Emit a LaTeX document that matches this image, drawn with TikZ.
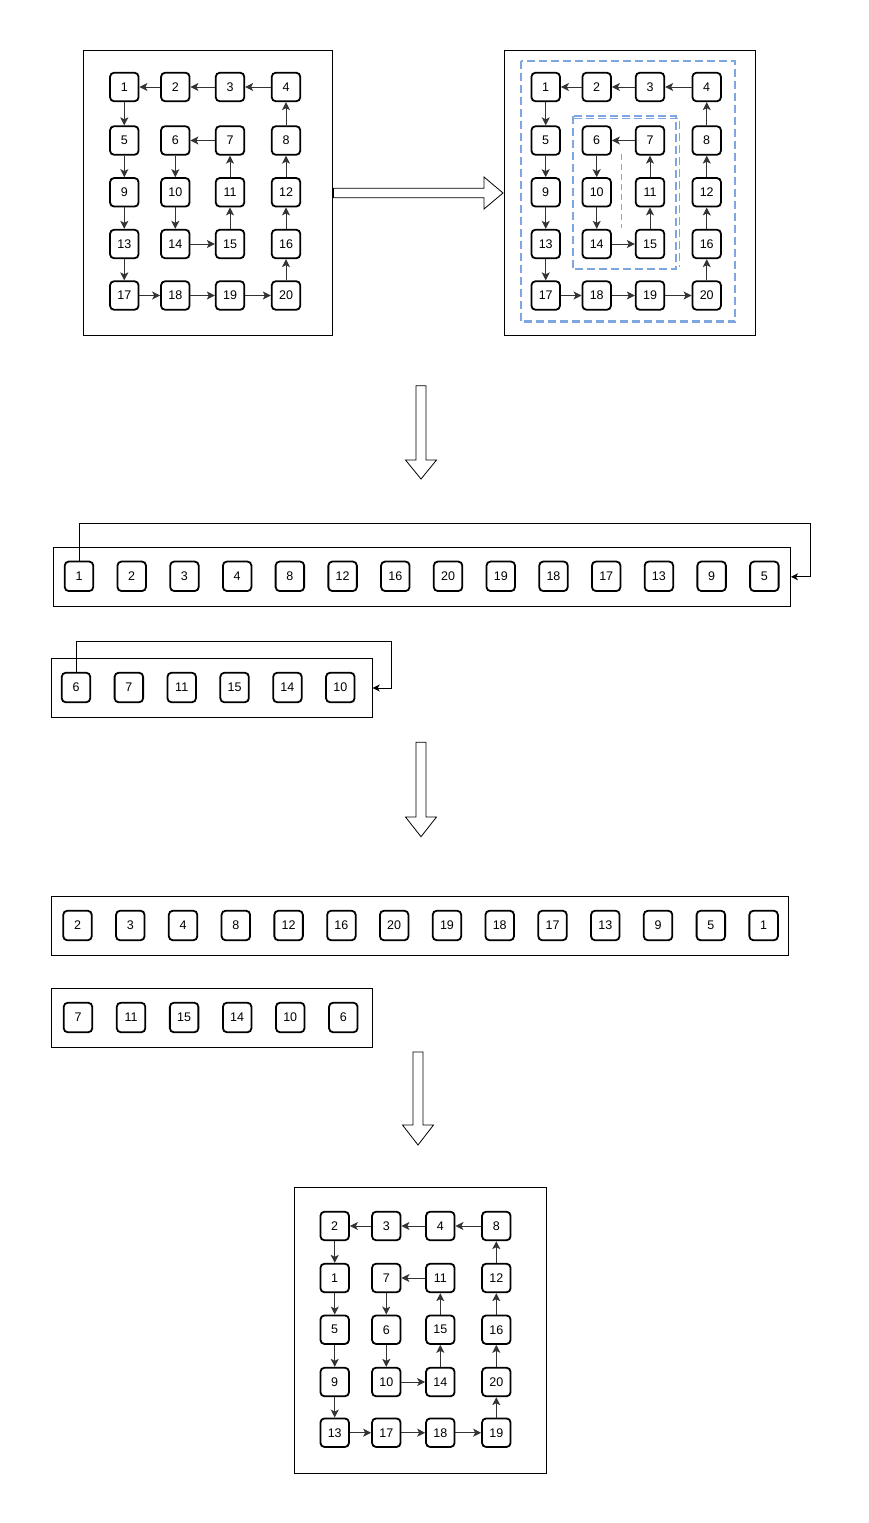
\documentclass[tikz,border=0pt]{standalone}
\usepackage{fontspec}
\setmainfont{Liberation Sans}
\usetikzlibrary{arrows.meta}
\definecolor{spiral}{HTML}{7EA6E0}
\definecolor{edgegray}{HTML}{333333}
\begin{document}
\begin{tikzpicture}[x=1pt,y=-1pt,
  cell/.style={draw=black, line width=1.8pt, rounded corners=4pt, minimum width=28.5pt, minimum height=28.5pt, inner sep=0pt, fill=white, font=\fontsize{12.5}{14}\selectfont},
  tallcell/.style={cell, minimum height=29.5pt},
  frame/.style={draw=black, line width=1pt, inner sep=0pt, anchor=north west},
  link/.style={draw=edgegray, line width=1pt, -{Stealth[length=8pt,width=8pt,inset=2pt]}},
  conn/.style={draw=black, line width=0.8pt, -{Stealth[length=7pt,width=7pt,inset=2pt]}},
  hollow/.style={draw=black, line width=0.8pt, fill=white},
  spiraldash/.style={draw=spiral, line width=2.3pt, dash pattern=on 8pt off 4pt}
]
\useasboundingbox (0,0) rectangle (869,1523);

% ---------- top-left grid ----------
\node[frame, minimum width=249pt, minimum height=285pt] (TLF) at (83.3,50) {};
\foreach \lab/\x/\y in {1/124.3/87,2/175.3/87,3/230/87,4/286/87,
  5/124.3/140.5,6/175.3/140.5,7/230/140.5,8/286/140.5,
  9/124.3/192.3,10/175.3/192.3,11/230/192.3,12/286/192.3,
  13/124.3/244,14/175.3/244,15/230/244,16/286/244,
  17/124.3/295.5,18/175.3/295.5,19/230/295.5,20/286/295.5}
  \node[cell] (A\lab) at (\x,\y) {\lab};
\foreach \a/\b in {4/3,3/2,2/1,1/5,5/9,9/13,13/17,17/18,18/19,19/20,20/16,16/12,12/8,8/4,7/6,6/10,10/14,14/15,15/11,11/7}
  \draw[link] (A\a) -- (A\b);

% ---------- top-right grid ----------
\node[frame, minimum width=251pt, minimum height=285pt] (TRF) at (504,50) {};
\draw[spiraldash] (520.7,61) rectangle (735.3,321.5);
\draw[spiraldash, line width=2pt] (572.7,115.5) rectangle (676,269);
\draw[spiraldash, line width=1.7pt] (574,118.5) -- (679.5,118.5) -- (679.5,267);
\draw[draw=spiral, line width=1.4pt, dash pattern=on 6pt off 4pt] (621.7,154) -- (621.7,228);
\foreach \lab/\x/\y in {1/545.7/87,2/596.7/87,3/650/87,4/706.7/87,
  5/545.7/140.5,6/596.7/140.5,7/650/140.5,8/706.7/140.5,
  9/545.7/192.3,10/596.7/192.3,11/650/192.3,12/706.7/192.3,
  13/545.7/244,14/596.7/244,15/650/244,16/706.7/244,
  17/545.7/295.5,18/596.7/295.5,19/650/295.5,20/706.7/295.5}
  \node[cell] (B\lab) at (\x,\y) {\lab};
\foreach \a/\b in {4/3,3/2,2/1,1/5,5/9,9/13,13/17,17/18,18/19,19/20,20/16,16/12,12/8,8/4,7/6,6/10,10/14,14/15,15/11,11/7}
  \draw[link] (B\a) -- (B\b);

% ---------- hollow arrows ----------
\draw[hollow] (333.5,188.3) -- (484,188.3) -- (484,177) -- (503,193) -- (484,209) -- (484,197.7) -- (333.5,197.7) -- cycle;
\draw[hollow] (416,385.7) -- (426,385.7) -- (426,460) -- (436.5,460) -- (421,479) -- (405.5,460) -- (416,460) -- cycle;
\draw[hollow] (416,742.3) -- (426,742.3) -- (426,817) -- (436.5,817) -- (421,836.7) -- (405.5,817) -- (416,817) -- cycle;
\draw[hollow] (413,1052) -- (423,1052) -- (423,1125) -- (433.5,1125) -- (418,1145) -- (402.5,1125) -- (413,1125) -- cycle;

% ---------- row 1 ----------
\node[frame, minimum width=736.7pt, minimum height=59.3pt] (F1) at (53.3,546.7) {};
\foreach \lab [count=\i from 0] in {1,2,3,4,8,12,16,20,19,18,17,13,9,5}
  \node[tallcell] (P\i) at (79+\i*52.72,576.3) {\lab};
\coordinate (c1) at (810,523.3);
\draw[conn] (P0.north) |- (c1) |- (F1.east);

% ---------- row 2 ----------
\node[frame, minimum width=321pt, minimum height=59.6pt] (F2) at (50.7,657.7) {};
\foreach \lab [count=\i from 0] in {6,7,11,15,14,10}
  \node[tallcell] (Q\i) at (76+\i*52.86,687.5) {\lab};
\coordinate (c2) at (391,641);
\draw[conn] (Q0.north) |- (c2) |- (F2.east);

% ---------- row 3 ----------
\node[frame, minimum width=737pt, minimum height=59.3pt] (F3) at (50.7,895.7) {};
\foreach \lab [count=\i from 0] in {2,3,4,8,12,16,20,19,18,17,13,9,5,1}
  \node[tallcell] (R\i) at (77.5+\i*52.78,925.5) {\lab};

% ---------- row 4 ----------
\node[frame, minimum width=321pt, minimum height=59.6pt] (F4) at (50.7,987.7) {};
\foreach \lab [count=\i from 0] in {7,11,15,14,10,6}
  \node[tallcell] (S\i) at (78+\i*53.06,1017.5) {\lab};

% ---------- bottom grid ----------
\node[frame, minimum width=252pt, minimum height=285.4pt] (BF) at (294,1187.3) {};
\foreach \lab/\x/\y in {2/334.7/1226,3/386.3/1226,4/440.3/1226,8/496.3/1226,
  1/334.7/1278,7/386.3/1278,11/440.3/1278,12/496.3/1278,
  5/334.7/1329.7,6/386.3/1329.7,15/440.3/1329.7,16/496.3/1329.7,
  9/334.7/1382,10/386.3/1382,14/440.3/1382,20/496.3/1382,
  13/334.7/1432.7,17/386.3/1432.7,18/440.3/1432.7,19/496.3/1432.7}
  \node[cell] (E\lab) at (\x,\y) {\lab};
\foreach \a/\b in {8/4,4/3,3/2,2/1,1/5,5/9,9/13,13/17,17/18,18/19,19/20,20/16,16/12,12/8,11/7,7/6,6/10,10/14,14/15,15/11}
  \draw[link] (E\a) -- (E\b);
\end{tikzpicture}
\end{document}
